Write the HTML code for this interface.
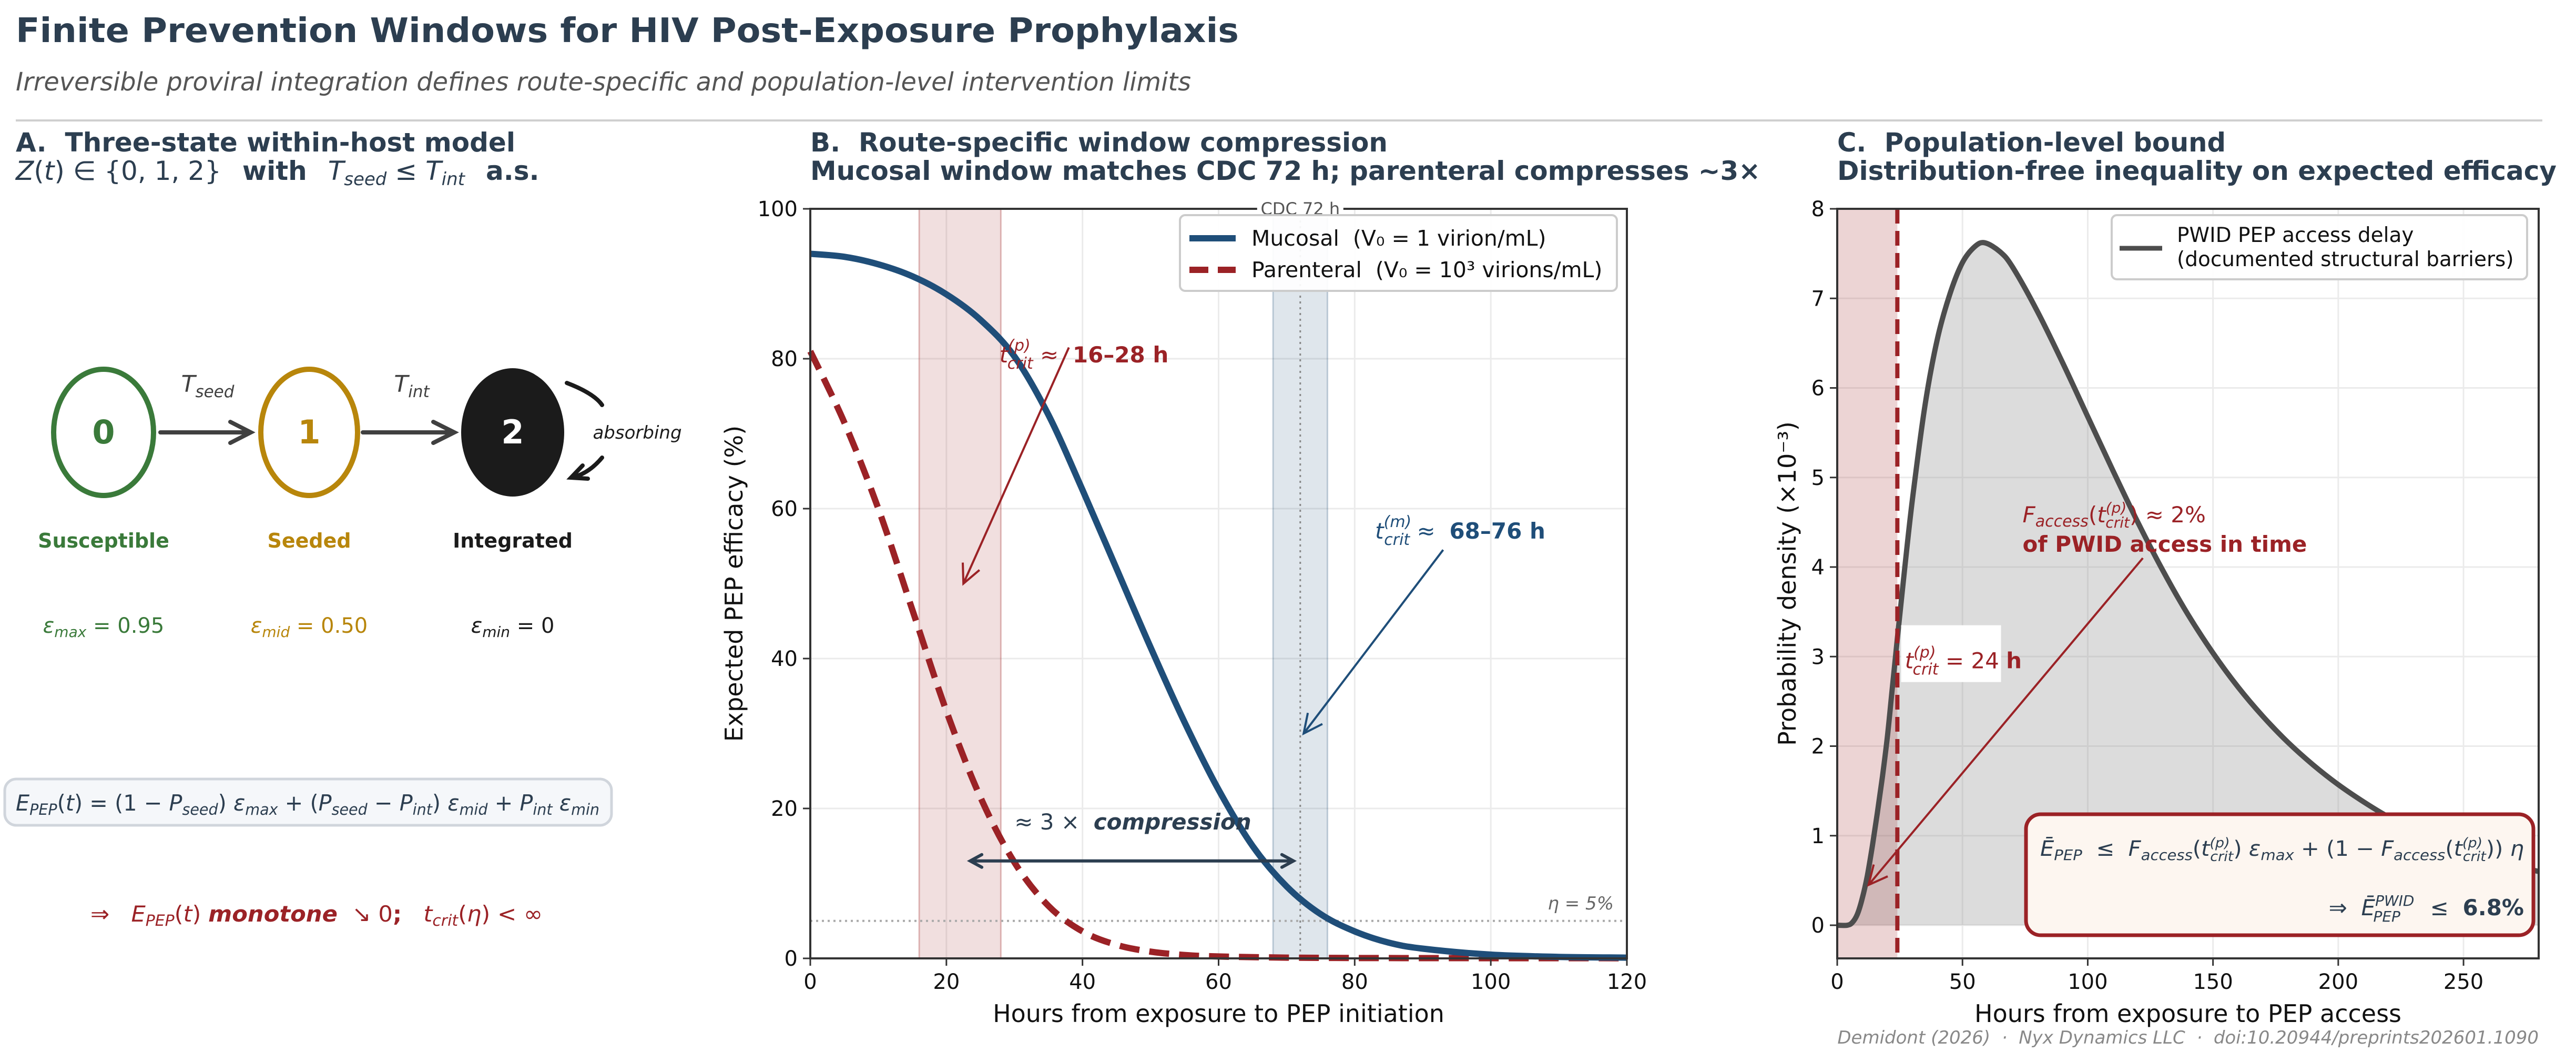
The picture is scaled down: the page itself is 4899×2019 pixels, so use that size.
<!DOCTYPE html>
<html><head><meta charset="utf-8"><style>
html,body{margin:0;padding:0;background:#fff}
svg{display:block}
text{font-family:"DejaVu Sans","Liberation Sans",sans-serif;white-space:pre}
</style></head><body>
<svg id="fig" width="4899" height="2019" viewBox="0 0 4899 2019" xmlns="http://www.w3.org/2000/svg">
<rect width="4899" height="2019" fill="#fff"/>
<text x="30" y="80" font-size="64" font-weight="bold" fill="#2c3e50" textLength="2326" lengthAdjust="spacingAndGlyphs">Finite Prevention Windows for HIV Post-Exposure Prophylaxis</text>
<text x="30" y="172" font-size="48" font-style="italic" fill="#555" textLength="2235" lengthAdjust="spacingAndGlyphs">Irreversible proviral integration defines route-specific and population-level intervention limits</text>
<line x1="30" y1="229" x2="4835" y2="229" stroke="#cfcfcf" stroke-width="4"/>

<g fill="#2c3e50" font-weight="bold" font-size="50">
<text x="30" y="288" textLength="950" lengthAdjust="spacingAndGlyphs">A.  Three-state within-host model</text>
<text x="30" y="342"><tspan font-weight="normal" font-style="italic">Z</tspan><tspan font-weight="normal">(</tspan><tspan font-weight="normal" font-style="italic">t</tspan><tspan font-weight="normal">) ∈ {0, 1, 2}</tspan><tspan dx="40">with</tspan><tspan dx="40" font-weight="normal" font-style="italic">T</tspan><tspan font-weight="normal" font-style="italic" font-size="34" dy="10">seed</tspan><tspan font-weight="normal" dy="-10"> ≤ </tspan><tspan font-weight="normal" font-style="italic">T</tspan><tspan font-weight="normal" font-style="italic" font-size="34" dy="10">int</tspan><tspan dy="-10" dx="40">a.s.</tspan></text>
<text x="1541" y="288" textLength="1098" lengthAdjust="spacingAndGlyphs">B.  Route-specific window compression</text>
<text x="1541" y="342" textLength="1807" lengthAdjust="spacingAndGlyphs">Mucosal window matches CDC 72 h; parenteral compresses ~3×</text>
<text x="3494" y="288" textLength="739" lengthAdjust="spacingAndGlyphs">C.  Population-level bound</text>
<text x="3494" y="342" textLength="1368" lengthAdjust="spacingAndGlyphs">Distribution-free inequality on expected efficacy</text>
</g>

<g>
<ellipse cx="197" cy="822" rx="95" ry="120" fill="#fff" stroke="#3a7a3a" stroke-width="10"/>
<text x="197" y="843" font-size="62" font-weight="bold" fill="#3a7a3a" text-anchor="middle">0</text>
<ellipse cx="588" cy="822" rx="92" ry="120" fill="#fff" stroke="#b8860b" stroke-width="10"/>
<text x="588" y="843" font-size="62" font-weight="bold" fill="#b8860b" text-anchor="middle">1</text>
<ellipse cx="975" cy="822" rx="98" ry="122" fill="#1b1b1b"/>
<text x="975" y="843" font-size="62" font-weight="bold" fill="#fff" text-anchor="middle">2</text>
<g stroke="#404040" stroke-width="8" fill="none" stroke-linecap="round">
<path d="M305,822 L475,822 M438,802 L477,822 L438,842"/>
<path d="M690,822 L862,822 M824,802 L864,822 L824,842"/>
</g>
<path d="M1078,728 Q1130,748 1145,770 M1145,870 Q1120,900 1088,908 M1108,885 L1086,908 L1118,910" stroke="#1b1b1b" stroke-width="8" fill="none" stroke-linecap="round"/>
<text x="395" y="745" font-size="44" font-style="italic" fill="#404040" text-anchor="middle">T<tspan font-size="31" dy="10">seed</tspan></text>
<text x="783" y="745" font-size="44" font-style="italic" fill="#404040" text-anchor="middle">T<tspan font-size="31" dy="10">int</tspan></text>
<text x="1212" y="834" font-size="34" font-style="italic" fill="#1b1b1b" text-anchor="middle">absorbing</text>
<text x="197" y="1041" font-size="38" font-weight="bold" fill="#3a7a3a" text-anchor="middle">Susceptible</text>
<text x="588" y="1041" font-size="38" font-weight="bold" fill="#b8860b" text-anchor="middle">Seeded</text>
<text x="975" y="1041" font-size="38" font-weight="bold" fill="#1b1b1b" text-anchor="middle">Integrated</text>
<text x="197" y="1203" font-size="40" fill="#3a7a3a" text-anchor="middle"><tspan font-style="italic">ε</tspan><tspan font-style="italic" font-size="28" dy="8">max</tspan><tspan dy="-8"> = 0.95</tspan></text>
<text x="588" y="1203" font-size="40" fill="#b8860b" text-anchor="middle"><tspan font-style="italic">ε</tspan><tspan font-style="italic" font-size="28" dy="8">mid</tspan><tspan dy="-8"> = 0.50</tspan></text>
<text x="975" y="1203" font-size="40" fill="#1b1b1b" text-anchor="middle"><tspan font-style="italic">ε</tspan><tspan font-style="italic" font-size="28" dy="8">min</tspan><tspan dy="-8"> = 0</tspan></text>
<rect x="9" y="1481" width="1154" height="88" rx="22" fill="#f5f7fa" stroke="#d0d5dc" stroke-width="5"/>
<text x="30" y="1541" font-size="42" fill="#2c3e50" textLength="1110" lengthAdjust="spacingAndGlyphs"><tspan font-style="italic">E</tspan><tspan font-style="italic" font-size="29" dy="8">PEP</tspan><tspan dy="-8">(</tspan><tspan font-style="italic">t</tspan>) = (1 − <tspan font-style="italic">P</tspan><tspan font-style="italic" font-size="29" dy="8">seed</tspan><tspan dy="-8">) </tspan><tspan font-style="italic">ε</tspan><tspan font-style="italic" font-size="29" dy="8">max</tspan><tspan dy="-8"> + (</tspan><tspan font-style="italic">P</tspan><tspan font-style="italic" font-size="29" dy="8">seed</tspan><tspan dy="-8"> − </tspan><tspan font-style="italic">P</tspan><tspan font-style="italic" font-size="29" dy="8">int</tspan><tspan dy="-8">) </tspan><tspan font-style="italic">ε</tspan><tspan font-style="italic" font-size="29" dy="8">mid</tspan><tspan dy="-8"> + </tspan><tspan font-style="italic">P</tspan><tspan font-style="italic" font-size="29" dy="8">int</tspan><tspan dy="-8"> </tspan><tspan font-style="italic">ε</tspan><tspan font-style="italic" font-size="29" dy="8">min</tspan></text>
<text x="172" y="1752" font-size="42" fill="#9b2226" textLength="860" lengthAdjust="spacingAndGlyphs">⇒   <tspan font-style="italic">E</tspan><tspan font-style="italic" font-size="29" dy="8">PEP</tspan><tspan dy="-8">(</tspan><tspan font-style="italic">t</tspan>) <tspan font-weight="bold" font-style="italic">monotone</tspan>  ↘ 0<tspan font-weight="bold">;</tspan>   <tspan font-style="italic">t</tspan><tspan font-style="italic" font-size="29" dy="8">crit</tspan><tspan dy="-8">(</tspan><tspan font-style="italic">η</tspan>) &lt; ∞</text>
</g>

<g id="panelB"></g>
<g id="panelC"></g>

<text x="4828" y="1984" font-size="34" font-style="italic" fill="#888" text-anchor="end">Demidont (2026)  ·  Nyx Dynamics LLC  ·  doi:10.20944/preprints202601.1090</text>
</svg>
<script>
// ---- Panel B data ----
const bHours = [0,5,10,15,20,25,30,35,40,45,50,55,60,65,70,75,80,85,90,100,110,120];
const bMucosal = [94,93.6,92.6,91,88.6,85.2,80.3,72.5,62.5,52,41.5,31.5,22.5,15,9.6,5.9,3.6,2.1,1.3,0.5,0.2,0.1];
const pHours = [0,5,10,15,20,25,30,35,40,45,50,55,60,70,80,100,120];
const bParenteral = [81,71.5,60,46.5,33,21.5,12.8,7,3.6,1.8,0.9,0.45,0.25,0.1,0.05,0.03,0.02];
const bXTicks = [0,20,40,60,80,100,120];
const bYTicks = [0,20,40,60,80,100];
const bParentBand = [16,28];
const bMucosalBand = [68,76];
const bCdcHour = 72;
const bEta = 5;
// ---- Panel C data ----
const cHours = [0,4,6,8,10,12,14,16,18,20,22,24,27,30,35,40,45,50,55,59,65,70,80,90,100,110,120,130,140,150,160,170,180,190,200,210,220,230,240,250,260,270,280];
const cDensity = [0,0,0.03,0.12,0.3,0.55,0.88,1.25,1.65,2.1,2.65,3.2,4.0,4.75,5.8,6.55,7.05,7.4,7.58,7.62,7.52,7.35,6.85,6.28,5.68,5.08,4.5,3.96,3.47,3.04,2.66,2.33,2.04,1.79,1.57,1.38,1.21,1.07,0.95,0.84,0.75,0.67,0.6];
const cXTicks = [0,50,100,150,200,250];
const cYTicks = [0,1,2,3,4,5,6,7,8];
const cTcrit = 24;

const NS='http://www.w3.org/2000/svg';
function mk(parent,tag,attrs,text){const e=document.createElementNS(NS,tag);for(const k in attrs)e.setAttribute(k,attrs[k]);if(text!==undefined)e.textContent=text;parent.appendChild(e);return e;}
function smooth(pts){let d='M'+pts[0][0].toFixed(1)+','+pts[0][1].toFixed(1);
 for(let i=0;i<pts.length-1;i++){const p0=pts[i-1]||pts[i],p1=pts[i],p2=pts[i+1],p3=pts[i+2]||p2;
  const c1=[p1[0]+(p2[0]-p0[0])/6,p1[1]+(p2[1]-p0[1])/6],c2=[p2[0]-(p3[0]-p1[0])/6,p2[1]-(p3[1]-p1[1])/6];
  d+=' C'+c1[0].toFixed(1)+','+c1[1].toFixed(1)+' '+c2[0].toFixed(1)+','+c2[1].toFixed(1)+' '+p2[0].toFixed(1)+','+p2[1].toFixed(1);}
 return d;}
function arrowD(x1,y1,x2,y2,s){const a=Math.atan2(y2-y1,x2-x1),w=0.45;
 return `M${x1},${y1} L${x2},${y2} M${x2-s*Math.cos(a-w)},${y2-s*Math.sin(a-w)} L${x2},${y2} L${x2-s*Math.cos(a+w)},${y2-s*Math.sin(a+w)}`;}

// ---------- Panel B ----------
(function(){
const g=document.getElementById('panelB');
const L=1541,R=3094,T=397,B=1822;
const x=v=>L+v/120*(R-L), y=v=>B-v/100*(B-T);
let l,t,r,p;
for(const v of bXTicks){l=mk(g,'line',{x1:x(v),x2:x(v),y1:T,y2:B,stroke:'#ebebeb','stroke-width':3});

}
for(const v of bYTicks){l=mk(g,'line',{x1:L,x2:R,y1:y(v),y2:y(v),stroke:'#ebebeb','stroke-width':3});

}
r=mk(g,'rect',{x:x(bParentBand[0]),y:T,width:x(bParentBand[1])-x(bParentBand[0]),height:B-T,fill:'rgba(160,40,40,0.15)',stroke:'rgba(160,40,40,0.3)','stroke-width':3});


r=mk(g,'rect',{x:x(bMucosalBand[0]),y:T,width:x(bMucosalBand[1])-x(bMucosalBand[0]),height:B-T,fill:'rgba(31,78,121,0.14)',stroke:'rgba(31,78,121,0.25)','stroke-width':3});


l=mk(g,'line',{x1:x(bCdcHour),x2:x(bCdcHour),y1:T,y2:B,stroke:'#888','stroke-width':3,'stroke-dasharray':'4,7'});


l=mk(g,'line',{x1:L,x2:R,y1:y(bEta),y2:y(bEta),stroke:'#aaa','stroke-width':4,'stroke-dasharray':'4,7'});


t=mk(g,'text',{x:R-25,y:y(bEta)-22,'font-size':34,'font-style':'italic',fill:'#666','text-anchor':'end'},'η = 5%');


p=mk(g,'path',{d:smooth(pHours.map((h,i)=>[x(h),y(bParenteral[i])])),fill:'none',stroke:'#9b2226','stroke-width':12,'stroke-dasharray':'38,19'});


p=mk(g,'path',{d:smooth(bHours.map((h,i)=>[x(h),y(bMucosal[i])])),fill:'none',stroke:'#1f4e79','stroke-width':12});


p=mk(g,'path',{d:arrowD(x(38),y(81.5),x(22.5),y(50),40),stroke:'#9b2226','stroke-width':4,fill:'none'});


t=mk(g,'text',{x:x(27.8),y:y(79.5),'font-size':42,fill:'#9b2226'});
t.innerHTML='<tspan font-style="italic">t</tspan><tspan font-style="italic" font-size="30" dy="-22">(p)</tspan><tspan font-style="italic" font-size="30" dx="-44" dy="34">crit</tspan><tspan dy="-12"> ≈  </tspan><tspan font-weight="bold">16–28 h</tspan>';


p=mk(g,'path',{d:arrowD(x(93),y(54.5),x(72.5),y(30),40),stroke:'#1f4e79','stroke-width':4,fill:'none'});


t=mk(g,'text',{x:x(83),y:y(56),'font-size':42,fill:'#1f4e79'});
t.innerHTML='<tspan font-style="italic">t</tspan><tspan font-style="italic" font-size="30" dy="-22">(m)</tspan><tspan font-style="italic" font-size="30" dx="-52" dy="34">crit</tspan><tspan dy="-12"> ≈  </tspan><tspan font-weight="bold">68–76 h</tspan>';


p=mk(g,'path',{d:`M${x(23.5)},${y(13)} L${x(71)},${y(13)} M${x(23.5)+22},${y(13)-12} L${x(23.5)},${y(13)} L${x(23.5)+22},${y(13)+12} M${x(71)-22},${y(13)-12} L${x(71)},${y(13)} L${x(71)-22},${y(13)+12}`,stroke:'#2c3e50','stroke-width':6,fill:'none','stroke-linecap':'round'});


t=mk(g,'text',{x:x(30),y:y(17.2),'font-size':42,fill:'#2c3e50'});
t.innerHTML='≈ 3 ×  <tspan font-weight="bold" font-style="italic">compression</tspan>';


r=mk(g,'rect',{x:L,y:T,width:R-L,height:B-T,fill:'none',stroke:'#333','stroke-width':4});


r=mk(g,'rect',{x:x(bCdcHour)-82,y:T-18,width:164,height:34,fill:'#fff'});


t=mk(g,'text',{x:x(bCdcHour),y:T+11,'font-size':32,fill:'#555','text-anchor':'middle'},'CDC 72 h');


for(const v of bXTicks){l=mk(g,'line',{x1:x(v),x2:x(v),y1:B,y2:B+14,stroke:'#333','stroke-width':3});


t=mk(g,'text',{x:x(v),y:B+58,'font-size':40,'text-anchor':'middle',fill:'#111'},String(v));

}
for(const v of bYTicks){l=mk(g,'line',{x1:L-14,x2:L,y1:y(v),y2:y(v),stroke:'#333','stroke-width':3});


t=mk(g,'text',{x:L-24,y:y(v)+14,'font-size':40,'text-anchor':'end',fill:'#111'},String(v));

}
t=mk(g,'text',{x:(L+R)/2,y:1943,'font-size':46,'text-anchor':'middle',fill:'#111'},'Hours from exposure to PEP initiation');


t=mk(g,'text',{x:0,y:0,'font-size':46,'text-anchor':'middle',fill:'#111',transform:`translate(1412,${(T+B)/2}) rotate(-90)`},'Expected PEP efficacy (%)');


const lg=mk(g,'g',{});


mk(lg,'rect',{x:2244,y:409,width:831,height:144,rx:10,fill:'rgba(255,255,255,0.92)',stroke:'#ccc','stroke-width':4});
l=mk(lg,'line',{x1:2262,x2:2350,y1:453,y2:453,stroke:'#1f4e79','stroke-width':12});


t=mk(lg,'text',{x:2380,y:467,'font-size':41,fill:'#111'},'Mucosal  (V₀ = 1 virion/mL)');


l=mk(lg,'line',{x1:2262,x2:2350,y1:513,y2:513,stroke:'#9b2226','stroke-width':12,'stroke-dasharray':'36,18'});


t=mk(lg,'text',{x:2380,y:527,'font-size':41,fill:'#111'},'Parenteral  (V₀ = 10³ virions/mL)');


})();

// ---------- Panel C ----------
(function(){
const g=document.getElementById('panelC');
const L=3494,R=4828,T=397,B=1822,Y0=1759;
const ppu=(Y0-T)/8;
const x=v=>L+v/280*(R-L), y=v=>Y0-v*ppu;
let l,t,r,p;
for(const v of cXTicks){l=mk(g,'line',{x1:x(v),x2:x(v),y1:T,y2:B,stroke:'#ebebeb','stroke-width':3});

}
for(const v of cYTicks){l=mk(g,'line',{x1:L,x2:R,y1:y(v),y2:y(v),stroke:'#ebebeb','stroke-width':3});

}
const pts=cHours.map((h,i)=>[x(h),y(cDensity[i])]);
const line=smooth(pts);
p=mk(g,'path',{d:line+` L${x(cHours[cHours.length-1])},${y(0)} L${x(cHours[0])},${y(0)} Z`,fill:'rgba(150,150,150,0.33)',stroke:'none'});


r=mk(g,'rect',{x:L,y:T,width:x(cTcrit)-L,height:B-T,fill:'rgba(160,40,40,0.2)'});


p=mk(g,'path',{d:line,fill:'none',stroke:'#4d4d4d','stroke-width':10});


l=mk(g,'line',{x1:x(cTcrit),x2:x(cTcrit),y1:T,y2:B,stroke:'#9b2226','stroke-width':8,'stroke-dasharray':'28,14'});


r=mk(g,'rect',{x:x(25.5),y:y(3.35),width:190,height:108,fill:'#fff'});


t=mk(g,'text',{x:x(27),y:y(2.87),'font-size':42,fill:'#9b2226'});
t.innerHTML='<tspan font-style="italic">t</tspan><tspan font-style="italic" font-size="30" dy="-20">(p)</tspan><tspan font-style="italic" font-size="30" dx="-44" dy="32">crit</tspan><tspan dy="-12"> = 24 </tspan><tspan font-weight="bold">h</tspan>';


p=mk(g,'path',{d:arrowD(x(122),y(4.1),x(12.5),y(0.45),40),stroke:'#9b2226','stroke-width':4,fill:'none'});


t=mk(g,'text',{x:x(74),y:y(4.5),'font-size':42,fill:'#9b2226'});
t.innerHTML='<tspan font-style="italic">F</tspan><tspan font-style="italic" font-size="30" dy="8">access</tspan><tspan dy="-8">(</tspan><tspan font-style="italic">t</tspan><tspan font-style="italic" font-size="28" dy="-18">(p)</tspan><tspan font-style="italic" font-size="28" dx="-40" dy="28">crit</tspan><tspan dy="-10">) ≈ 2%</tspan>';


t=mk(g,'text',{x:x(74),y:y(4.17),'font-size':42,'font-weight':'bold',fill:'#9b2226'},'of PWID access in time');


r=mk(g,'rect',{x:L,y:T,width:R-L,height:B-T,fill:'none',stroke:'#333','stroke-width':4});


r=mk(g,'rect',{x:3853,y:1548,width:965,height:230,rx:28,fill:'#fdf6f0',stroke:'#9b2226','stroke-width':7});


t=mk(g,'text',{x:4800,y:1627,'font-size':40,fill:'#2c3e50','text-anchor':'end',textLength:920,lengthAdjust:'spacingAndGlyphs'});
t.innerHTML='<tspan font-style="italic">Ē</tspan><tspan font-style="italic" font-size="28" dy="8">PEP</tspan><tspan dy="-8">  ≤  </tspan><tspan font-style="italic">F</tspan><tspan font-style="italic" font-size="28" dy="8">access</tspan><tspan dy="-8">(</tspan><tspan font-style="italic">t</tspan><tspan font-style="italic" font-size="26" dy="-16">(p)</tspan><tspan font-style="italic" font-size="26" dx="-36" dy="26">crit</tspan><tspan dy="-10">) </tspan><tspan font-style="italic">ε</tspan><tspan font-style="italic" font-size="28" dy="8">max</tspan><tspan dy="-8"> + (1 − </tspan><tspan font-style="italic">F</tspan><tspan font-style="italic" font-size="28" dy="8">access</tspan><tspan dy="-8">(</tspan><tspan font-style="italic">t</tspan><tspan font-style="italic" font-size="26" dy="-16">(p)</tspan><tspan font-style="italic" font-size="26" dx="-36" dy="26">crit</tspan><tspan dy="-10">)) </tspan><tspan font-style="italic">η</tspan>';


t=mk(g,'text',{x:4800,y:1740,'font-size':42,fill:'#2c3e50','text-anchor':'end'});
t.innerHTML='⇒  <tspan font-style="italic">Ē</tspan><tspan font-style="italic" font-size="28" dy="-18">PWID</tspan><tspan font-style="italic" font-size="28" dx="-78" dy="30">PEP</tspan><tspan dy="-12" dx="30">  ≤  </tspan><tspan font-weight="bold">6.8%</tspan>';


for(const v of cXTicks){l=mk(g,'line',{x1:x(v),x2:x(v),y1:B,y2:B+14,stroke:'#333','stroke-width':3});


t=mk(g,'text',{x:x(v),y:B+58,'font-size':40,'text-anchor':'middle',fill:'#111'},String(v));

}
for(const v of cYTicks){l=mk(g,'line',{x1:L-14,x2:L,y1:y(v),y2:y(v),stroke:'#333','stroke-width':3});


t=mk(g,'text',{x:L-24,y:y(v)+14,'font-size':40,'text-anchor':'end',fill:'#111'},String(v));

}
t=mk(g,'text',{x:(L+R)/2,y:1943,'font-size':46,'text-anchor':'middle',fill:'#111'},'Hours from exposure to PEP access');


t=mk(g,'text',{x:0,y:0,'font-size':46,'text-anchor':'middle',fill:'#111',transform:`translate(3415,${(T+B)/2}) rotate(-90)`},'Probability density (×10⁻³)');


const lg=mk(g,'g',{});


mk(lg,'rect',{x:4016,y:409,width:790,height:122,rx:10,fill:'rgba(255,255,255,0.92)',stroke:'#ccc','stroke-width':4});
l=mk(lg,'line',{x1:4031,x2:4112,y1:472,y2:472,stroke:'#4d4d4d','stroke-width':9});


t=mk(lg,'text',{x:4140,y:460,'font-size':39,fill:'#111'},'PWID PEP access delay');


t=mk(lg,'text',{x:4140,y:506,'font-size':39,fill:'#111'},'(documented structural barriers)');


})();
</script>
</body></html>
